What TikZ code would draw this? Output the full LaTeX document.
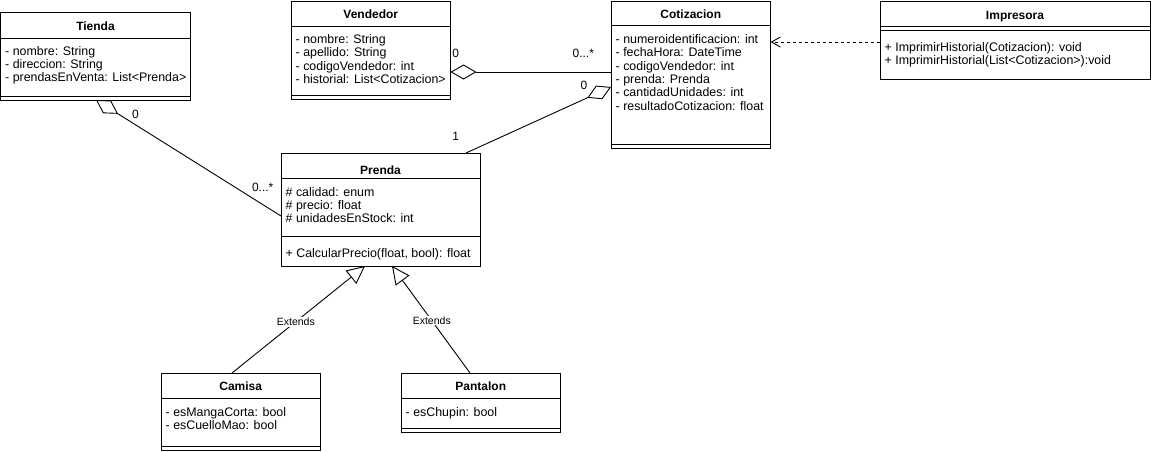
\documentclass[tikz,border=0pt]{standalone}
\usepackage{fontspec}
\setmainfont{Liberation Sans}
\usetikzlibrary{arrows.meta}

% horizontal compartment line inside a class box, #2 = distance below its top edge
\newcommand\csep[2]{\draw[line width=1pt] ([yshift=-#2pt]#1.north west) -- ([yshift=-#2pt]#1.north east);}
% list of members: #1 name prefix, #2 x, #3 first baseline, #4 entries
\newcommand\memberlist[4]{%
  \foreach \txt [count=\i] in {#4} {
    \node[mem] (#1-\i) at (#2, #3 + 13.33*\i - 13.33) {\txt};
  }}

\begin{document}
\begin{tikzpicture}[x=1pt,y=-1pt,
  cls/.style={draw, line width=1pt, rectangle, anchor=north west, inner sep=0pt, outer sep=0pt},
  ttl/.style={font=\fontsize{12}{14}\selectfont\bfseries, anchor=base, inner sep=0pt},
  mem/.style={font=\fontsize{12.4}{14}\selectfont, anchor=base west, inner sep=0pt},
  mult/.style={font=\fontsize{12}{14}\selectfont, anchor=base, inner sep=0pt},
  ext/.style={font=\fontsize{10.5}{12}\selectfont, fill=white, inner sep=1pt},
  link/.style={line width=0.9pt},
  agg/.style={link, arrows={{Diamond[open, length=26pt, width=15pt]}-}},
  dep/.style={link, dash pattern=on 3pt off 3pt, arrows={-{Straight Barb[length=9pt, width=10pt]}}},
  gen/.style={link, arrows={-{Triangle[open, length=18pt, width=17pt]}}}
]
\useasboundingbox (0,0) rectangle (1151,451);

% class boxes
\node[cls, minimum width=190pt,   minimum height=87.5pt] (tienda)     at (0.5,12.5) {};
\node[cls, minimum width=159.5pt, minimum height=98pt]   (vendedor)   at (291,1) {};
\node[cls, minimum width=159.5pt, minimum height=147pt]  (cotizacion) at (611,1) {};
\node[cls, minimum width=270pt,   minimum height=78pt]   (impresora)  at (880,1) {};
\node[cls, minimum width=199pt,   minimum height=113pt]  (prenda)     at (281,153) {};
\node[cls, minimum width=159.5pt, minimum height=77pt]   (camisa)     at (161,373) {};
\node[cls, minimum width=159.5pt, minimum height=59pt]   (pantalon)   at (401,373) {};

% compartments
\csep{tienda}{25.5}     \csep{tienda}{83.5}
\csep{vendedor}{25}     \csep{vendedor}{94}
\csep{cotizacion}{24}   \csep{cotizacion}{143}
\csep{impresora}{25}    \csep{impresora}{29}
\csep{prenda}{25}       \csep{prenda}{83.5}
\csep{camisa}{25}       \csep{camisa}{73}
\csep{pantalon}{25}     \csep{pantalon}{55}

% class names
\node[ttl] (tienda-t)     at (95.5,30)    {Tienda};
\node[ttl] (vendedor-t)   at (370.75,18.6) {Vendedor};
\node[ttl] (cotizacion-t) at (690.75,18.3) {Cotizacion};
\node[ttl] (impresora-t)  at (1015,19)    {Impresora};
\node[ttl] (prenda-t)     at (380.5,174)  {Prenda};
\node[ttl] (camisa-t)     at (240.75,390.3) {Camisa};
\node[ttl] (pantalon-t)   at (480.75,390.3) {Pantalon};

% members
\memberlist{tienda-a}{5}{55}{- nombre: String, - direccion: String, - prendasEnVenta: List<Prenda>}
\memberlist{vendedor-a}{295.5}{43.6}{- nombre: String, - apellido: String, - codigoVendedor: int, - historial: List<Cotizacion>}
\memberlist{cotizacion-a}{615.5}{43.6}{- numeroidentificacion: int, - fechaHora: DateTime, - codigoVendedor: int, - prenda: Prenda, - cantidadUnidades: int, - resultadoCotizacion: float}
\memberlist{impresora-m}{884.5}{51}{+ ImprimirHistorial(Cotizacion): void, + ImprimirHistorial(List<Cotizacion>):void}
\memberlist{prenda-a}{285.5}{196}{\# calidad: enum, \# precio: float, \# unidadesEnStock: int}
\memberlist{prenda-m}{285.5}{257.6}{{+ CalcularPrecio(float, bool): float}}
\memberlist{camisa-a}{165.5}{416}{- esMangaCorta: bool, - esCuelloMao: bool}
\memberlist{pantalon-a}{405.5}{416}{- esChupin: bool}

% associations
\draw[agg] ([xshift=95.5pt]tienda.south west) -- ([yshift=-63pt]prenda.north west);
\draw[agg] ([yshift=-71pt]vendedor.north east) -- ([yshift=-71pt]cotizacion.north west);
\draw[agg] ([yshift=-86pt]cotizacion.north west) -- ([xshift=185pt]prenda.north west);
\draw[dep] ([yshift=-41pt]impresora.north west) -- ([yshift=-41pt]cotizacion.north east);
\draw[gen] ([xshift=71pt]camisa.north west) -- node[ext, pos=0.48] (ext-c) {Extends} ([xshift=84pt]prenda.south west);
\draw[gen] ([xshift=69pt]pantalon.north west) -- node[ext, pos=0.49] (ext-p) {Extends} ([xshift=111pt]prenda.south west);

% multiplicities
\node[mult] (m1) at (135.5,118)   {0};
\node[mult] (m2) at (262.7,191.8) {0...*};
\node[mult] (m3) at (455.8,57.3)  {0};
\node[mult] (m4) at (583.3,57.6)  {0...*};
\node[mult] (m5) at (584,89.8)    {0};
\node[mult] (m6) at (455.8,140)   {1};
\end{tikzpicture}
\end{document}
